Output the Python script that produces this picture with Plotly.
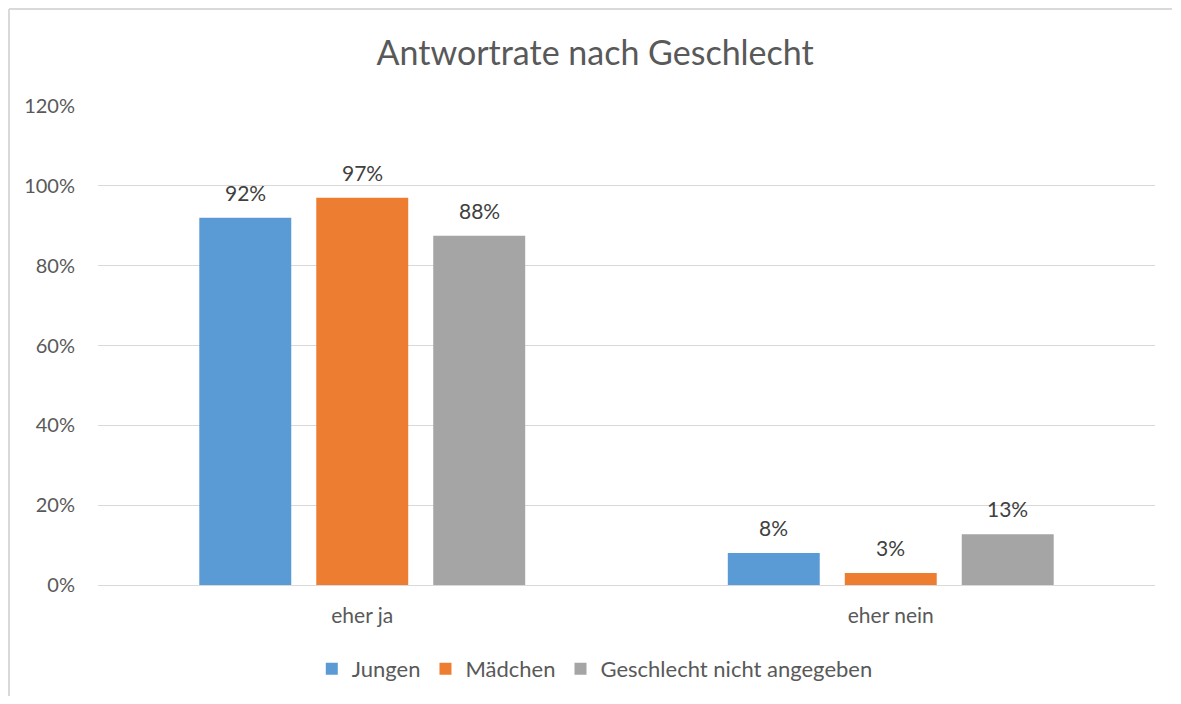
import plotly.graph_objects as go

# data
categories = ['eher ja', 'eher nein']
jungen = [0.92, 0.08]
maedchen = [0.97, 0.03]
nicht_angegeben = [0.875, 0.127]

series = [
    ('Jungen', jungen, '#5B9BD5'),
    ('Mädchen', maedchen, '#ED7D31'),
    ('Geschlecht nicht angegeben', nicht_angegeben, '#A5A5A5'),
]

FONT = 'Lato'
TXT = '#595959'
SLOT = 117  # px between neighbouring bars in a group

fig = go.Figure()
for name, vals, col in series:
    fig.add_trace(go.Bar(name=name, x=categories, y=vals, marker_color=col,
                         marker_line_width=0))

# value labels above the bars
for i, (name, vals, col) in enumerate(series):
    for cat, v in zip(categories, vals):
        fig.add_annotation(x=cat, y=v, text='{:.0f}%'.format(v * 100),
                           showarrow=False, xshift=(i - 1) * SLOT, yshift=11,
                           yanchor='bottom',
                           font=dict(family=FONT, size=21, color='#404040'))

# page body has an 8px margin; figure is kept small enough that the page does not scroll
fig.update_layout(
    width=1165, height=688,
    margin=dict(l=90, r=18, t=98, b=111, autoexpand=False),
    paper_bgcolor='white', plot_bgcolor='white',
    font=dict(family=FONT, color=TXT, size=20),
    title=dict(text='Antwortrate nach Geschlecht', x=0.504, xanchor='center',
               y=0.9346, yanchor='middle',
               font=dict(family=FONT, size=34, color=TXT)),
    barmode='group', bargap=0.336, bargroupgap=0.214,
    showlegend=True,
    legend=dict(orientation='h', x=0.47, xanchor='center', y=-0.175, yanchor='middle',
                font=dict(family=FONT, size=22, color=TXT), itemwidth=30,
                traceorder='normal'),
)
fig.update_yaxes(range=[0, 1.2], dtick=0.2, tickformat='.0%', showgrid=True,
                 gridcolor='#d9d9d9', gridwidth=1, zeroline=False, showline=False,
                 ticklabelstandoff=22, tickfont=dict(family=FONT, size=20, color=TXT))
fig.update_xaxes(showline=True, linecolor='#d9d9d9', linewidth=1, ticks='',
                 ticklabelstandoff=12, tickfont=dict(family=FONT, size=21, color=TXT))

# outer chart frame: only the left and top edges are visible in the reference
frame = dict(color='#d9d9d9', width=2)
fig.add_shape(type='line', xref='paper', yref='paper',
              x0=-0.0842, x1=-0.0842, y0=-0.3, y1=1.2025, line=frame, layer='below')
fig.add_shape(type='line', xref='paper', yref='paper',
              x0=-0.0842, x1=1.016, y0=1.2025, y1=1.2025, line=frame, layer='below')

fig.write_html('out.html')
